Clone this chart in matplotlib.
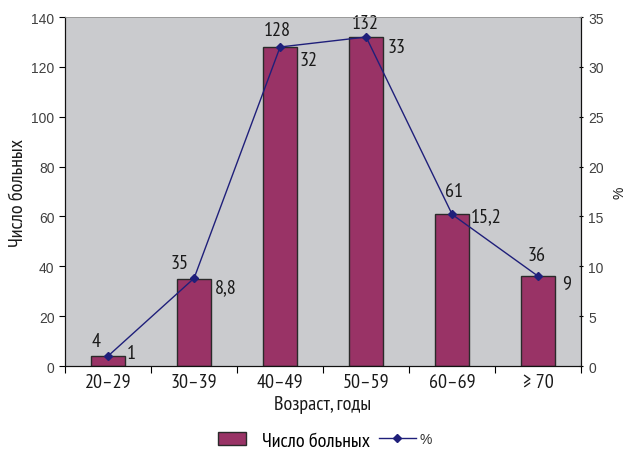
import matplotlib
matplotlib.use("Agg")
import matplotlib.pyplot as plt
from matplotlib.lines import Line2D
from matplotlib.patches import Patch
import numpy as np

age_groups = ["20\u201329", "30\u201339", "40\u201349", "50\u201359", "60\u201369", "\u2265 70"]
patients = [4, 35, 128, 132, 61, 36]
percent = [1, 8.8, 32, 33, 15.2, 9]
percent_labels = ["1", "8,8", "32", "33", "15,2", "9"]

narrow = ["PT Sans Narrow", "Fira Sans Condensed", "DejaVu Sans"]
plain = ["Liberation Sans", "DejaVu Sans"]

bar_color = "#993366"
line_color = "#1F1F7A"
bg_color = "#CACBCE"
text_color = "#1a1a1a"

# label nudges in pixels (dx, dy), placed to keep them clear of the line
count_nudge = [(-12, 6), (-15, 7), (-3, 8), (-1, 5), (2, 14), (-2, 12)]
pct_nudge = [(19, 3), (21, -9), (19, -13), (21, -10), (19, -2), (24, -8)]

fig = plt.figure(figsize=(6.25, 4.52), dpi=100)
ax = fig.add_axes([0.104, 0.188, 0.826, 0.772])
ax.set_facecolor(bg_color)

x = np.arange(len(age_groups))
ax.bar(x, patients, width=0.4, color=bar_color, edgecolor="#2a2a2a", linewidth=1.0, zorder=2)
ax.set_xlim(-0.5, len(age_groups) - 0.5)
ax.set_ylim(0, 140)
ax.set_yticks(range(0, 141, 20))

ax2 = ax.twinx()
ax2.plot(x, percent, color=line_color, linewidth=1.0, marker="D", markersize=4.5, zorder=3)
ax2.set_ylim(0, 35)
ax2.set_yticks(range(0, 36, 5))

# bar value labels above each bar
for xi, v, (dx, dy) in zip(x, patients, count_nudge):
    ax.annotate(str(v), (xi, v), xytext=(dx, dy), textcoords="offset pixels",
                ha="center", va="bottom", fontsize=14.5, family=narrow, color=text_color)

# percentage labels to the right of each marker
for xi, v, lab, (dx, dy) in zip(x, percent, percent_labels, pct_nudge):
    ax2.annotate(lab, (xi, v), xytext=(dx, dy), textcoords="offset pixels",
                 ha="left", va="center", fontsize=14.5, family=narrow, color=text_color)

# category ticks at boundaries, labels at centres
ax.set_xticks(np.arange(-0.5, len(age_groups), 1.0))
ax.set_xticklabels([])
ax.set_xticks(x, minor=True)
ax.set_xticklabels(age_groups, minor=True, fontsize=14.5, family=narrow, color=text_color)
ax.tick_params(axis="x", which="minor", length=0, pad=5)
ax.tick_params(axis="x", which="major", length=5, direction="out", width=0.8)

ax.tick_params(axis="y", labelsize=10, labelcolor="#404040", length=4, width=0.8, direction="out")
for t in ax.get_yticklabels():
    t.set_family(plain)
ax2.tick_params(axis="y", labelsize=10, labelcolor="#404040", length=3, width=0.8, direction="inout")
for t in ax2.get_yticklabels():
    t.set_family(plain)

for a in (ax, ax2):
    a.spines["top"].set_color("#9a9a9a")
    a.spines["top"].set_linewidth(0.6)
    for s in ("left", "right", "bottom"):
        a.spines[s].set_color("#111111")
        a.spines[s].set_linewidth(0.8)

ax.set_ylabel("Число больных", fontsize=14.5, family=narrow, color=text_color, labelpad=3)
ax2.set_ylabel("%", fontsize=10, family=plain, color=text_color, labelpad=6)
ax.set_xlabel("Возраст, годы", fontsize=14.5, family=narrow, color=text_color, labelpad=3)

# legend entries drawn as two separate groups
leg1 = fig.legend([Patch(facecolor=bar_color, edgecolor="#2a2a2a", linewidth=1.0)], ["Число больных"],
                  loc="center left", bbox_to_anchor=(0.349, 0.023), frameon=False,
                  prop={"family": narrow, "size": 14.5}, handlelength=1.4, handleheight=0.55,
                  handletextpad=0.8, borderpad=0, borderaxespad=0)
leg2 = fig.legend([Line2D([0], [0], color=line_color, marker="D", markersize=4.5, linewidth=1.0)], ["%"],
                  loc="center left", bbox_to_anchor=(0.606, 0.026), frameon=False,
                  prop={"family": plain, "size": 10}, handlelength=2.65,
                  handletextpad=0.3, borderpad=0, borderaxespad=0)
leg2.get_texts()[0].set_color("#333333")

fig.savefig("out.png", dpi=100, facecolor="white")
